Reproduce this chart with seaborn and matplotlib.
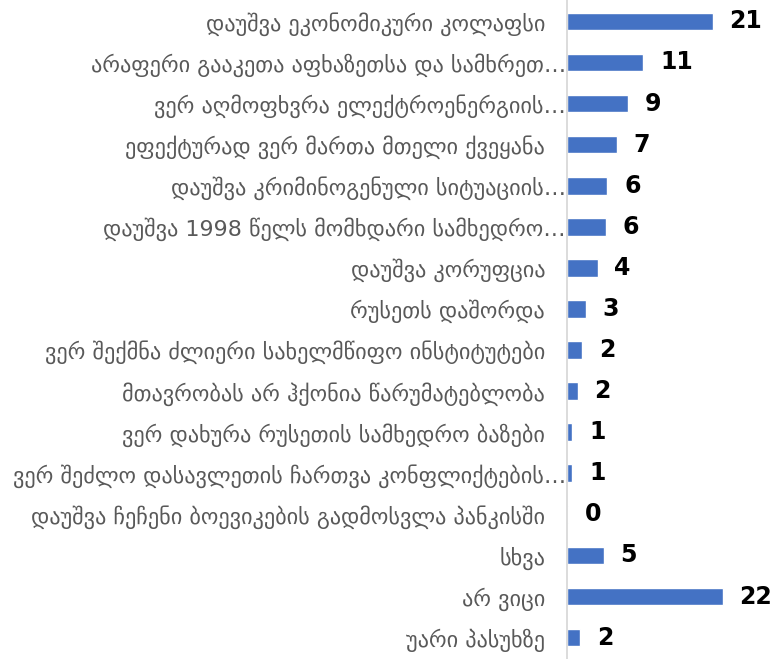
import numpy as np
import pandas as pd
import seaborn as sns
import matplotlib.pyplot as plt

sns.set_theme(style="white")
plt.rcParams['font.family'] = ['DejaVu Sans']

# კატეგორიები და მნიშვნელობები (%)
categories = [
    "დაუშვა ეკონომიკური კოლაფსი",
    "არაფერი გააკეთა აფხაზეთსა და სამხრეთ…",
    "ვერ აღმოფხვრა ელექტროენერგიის…",
    "ეფექტურად ვერ მართა მთელი ქვეყანა",
    "დაუშვა კრიმინოგენული სიტუაციის…",
    "დაუშვა 1998 წელს მომხდარი სამხედრო…",
    "დაუშვა კორუფცია",
    "რუსეთს დაშორდა",
    "ვერ შექმნა ძლიერი სახელმწიფო ინსტიტუტები",
    "მთავრობას არ ჰქონია წარუმატებლობა",
    "ვერ დახურა რუსეთის სამხედრო ბაზები",
    "ვერ შეძლო დასავლეთის ჩართვა კონფლიქტების…",
    "დაუშვა ჩეჩენი ბოევიკების გადმოსვლა პანკისში",
    "სხვა",
    "არ ვიცი",
    "უარი პასუხზე",
]
values = [20.7, 10.8, 8.7, 7.0, 5.7, 5.5, 4.3, 2.6, 2.1, 1.5, 0.7, 0.7, 0.15, 5.2, 22.1, 1.8]

df = pd.DataFrame({"category": categories, "value": values})

fig = plt.figure(figsize=(7.74, 6.59), dpi=100)
ax = fig.add_axes([0.733, 0.0, 0.267, 1.0])

sns.barplot(data=df, y="category", x="value", color="#4472c4",
            saturation=1, width=0.43, orient="h", ax=ax)

ax.set_xlim(0, 29.4)
ax.set_ylim(len(categories) - 0.48, -0.52)
ax.set_xlabel("")
ax.set_ylabel("")
ax.set_xticks([])

for sp in ["top", "right", "bottom"]:
    ax.spines[sp].set_visible(False)
ax.spines["left"].set_color("#d9d9d9")
ax.spines["left"].set_linewidth(1.3)

ax.tick_params(axis="y", length=0, labelsize=16, labelcolor="#595959")
for tick, lab in zip(ax.yaxis.get_major_ticks(), categories):
    tick.set_pad(1 if lab.endswith("…") else 16)

ax.bar_label(ax.containers[0], fmt="%.0f", padding=12,
             fontsize=17, fontweight="bold", color="black")

fig.savefig("out.png", dpi=100)
